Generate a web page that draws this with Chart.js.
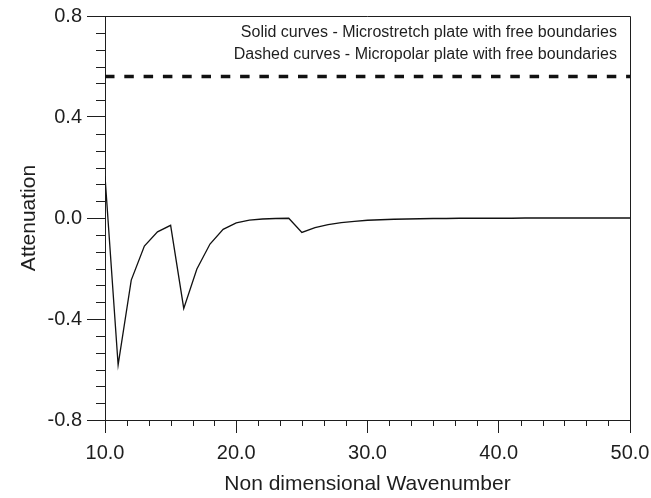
<!DOCTYPE html>
<html><head><meta charset="utf-8">
<script src="https://cdn.jsdelivr.net/npm/chart.js@4/dist/chart.umd.min.js"></script>
<style>html,body{margin:0;padding:0;background:#fff;}</style>
</head><body>
<canvas id="c" width="651" height="498"></canvas>
<script>
// ---- data ----
const wavenumbers = [10,11,12,13,14,15,16,17,18,19,20,21,22,23,24,25,26,27,28,29,30,31,32,33,34,35,36,37,38,39,40,41,42,43,44,45,46,47,48,49,50];
const solidAttenuation = [0.165,-0.582,-0.246,-0.111,-0.055,-0.029,-0.358,-0.202,-0.103,-0.045,-0.019,-0.008,-0.004,-0.002,-0.001,-0.057,-0.038,-0.026,-0.018,-0.013,-0.009,-0.007,-0.005,-0.004,-0.003,-0.002,-0.002,-0.001,-0.001,-0.001,-0.001,-0.001,0,0,0,0,0,0,0,0,0];
const dashedWavenumbers = [10, 50];
const dashedAttenuation = [0.56, 0.56];
const xTickValues = [10, 20, 30, 40, 50];
const yTickValues = [-0.8, -0.4, 0.0, 0.4, 0.8];
const minorDivisions = 6;
const legendLines = [
  "Solid curves - Microstretch plate with free boundaries",
  "Dashed curves - Micropolar plate with free boundaries"
];
const xTitle = "Non dimensional Wavenumber";
const yTitle = "Attenuation";

const INK = '#1e1e1e';
const FONT = 'Liberation Sans, Arial, Helvetica, sans-serif';

const framePlugin = {
  id: 'frame',
  afterDraw(chart) {
    const {ctx, chartArea: a, scales: {x, y}} = chart;
    ctx.save();
    ctx.strokeStyle = INK;
    ctx.lineWidth = 1;
    // top and right borders
    ctx.beginPath();
    ctx.moveTo(a.left, a.top + 0.5);
    ctx.lineTo(a.right + 0.5, a.top + 0.5);
    ctx.lineTo(a.right + 0.5, a.bottom);
    ctx.stroke();
    // minor ticks x
    ctx.beginPath();
    for (let i = 0; i < xTickValues.length - 1; i++) {
      const step = (xTickValues[i+1] - xTickValues[i]) / minorDivisions;
      for (let k = 1; k < minorDivisions; k++) {
        const px = Math.round(x.getPixelForValue(xTickValues[i] + k * step)) + 0.5;
        ctx.moveTo(px, a.bottom);
        ctx.lineTo(px, a.bottom + 6);
      }
    }
    // minor ticks y
    for (let i = 0; i < yTickValues.length - 1; i++) {
      const step = (yTickValues[i+1] - yTickValues[i]) / minorDivisions;
      for (let k = 1; k < minorDivisions; k++) {
        const py = Math.round(y.getPixelForValue(yTickValues[i] + k * step)) + 0.5;
        ctx.moveTo(a.left - 9, py);
        ctx.lineTo(a.left, py);
      }
    }
    ctx.stroke();
    // annotation text
    ctx.fillStyle = INK;
    ctx.font = '16px ' + FONT;
    ctx.textAlign = 'right';
    ctx.textBaseline = 'middle';
    legendLines.forEach((t, i) => ctx.fillText(t, a.right - 13, a.top + 17 + i * 21.5));
    ctx.restore();
  }
};

const fmt = v => (Math.abs(v) < 1e-9 ? 0 : v).toFixed(1);

new Chart(document.getElementById('c'), {
  type: 'line',
  data: {
    datasets: [
      {
        data: wavenumbers.map((w, i) => ({x: w, y: solidAttenuation[i]})),
        borderColor: '#111', borderWidth: 1.3, pointRadius: 0, tension: 0, fill: false
      },
      {
        data: dashedWavenumbers.map((w, i) => ({x: w, y: dashedAttenuation[i]})),
        borderColor: '#111', borderWidth: 3.5, borderDash: [9.5, 9.8], pointRadius: 0, fill: false
      }
    ]
  },
  options: {
    responsive: false,
    animation: false,
    layout: {padding: {left: 0, right: 0, top: 16, bottom: 0}},
    plugins: {legend: {display: false}, tooltip: {enabled: false}},
    scales: {
      x: {
        type: 'linear', min: 10, max: 50,
        afterBuildTicks: s => { s.ticks = xTickValues.map(v => ({value: v})); },
        afterFit: s => { s.height = 78; s.paddingRight = 21; s.paddingLeft = 0; },
        grid: {drawOnChartArea: false, drawTicks: true, tickLength: 13, tickColor: INK, tickWidth: 1},
        border: {display: true, color: INK, width: 1},
        ticks: {color: INK, font: {family: FONT, size: 20}, padding: 8, maxRotation: 0, callback: v => fmt(v)},
        title: {display: true, text: xTitle, color: INK, font: {family: FONT, size: 21}, padding: {top: 0, bottom: 1}}
      },
      y: {
        type: 'linear', min: -0.8, max: 0.8,
        afterBuildTicks: s => { s.ticks = yTickValues.map(v => ({value: v})); },
        afterFit: s => { s.width = 105; s.paddingTop = 0; s.paddingBottom = 0; },
        grid: {drawOnChartArea: false, drawTicks: true, tickLength: 18, tickColor: INK, tickWidth: 1},
        border: {display: true, color: INK, width: 1},
        ticks: {color: INK, font: {family: FONT, size: 20}, padding: 5, callback: v => fmt(v)},
        title: {display: true, text: yTitle, color: INK, font: {family: FONT, size: 21}, padding: {top: 17, bottom: 0}}
      }
    }
  },
  plugins: [framePlugin]
});
</script>
</body></html>
